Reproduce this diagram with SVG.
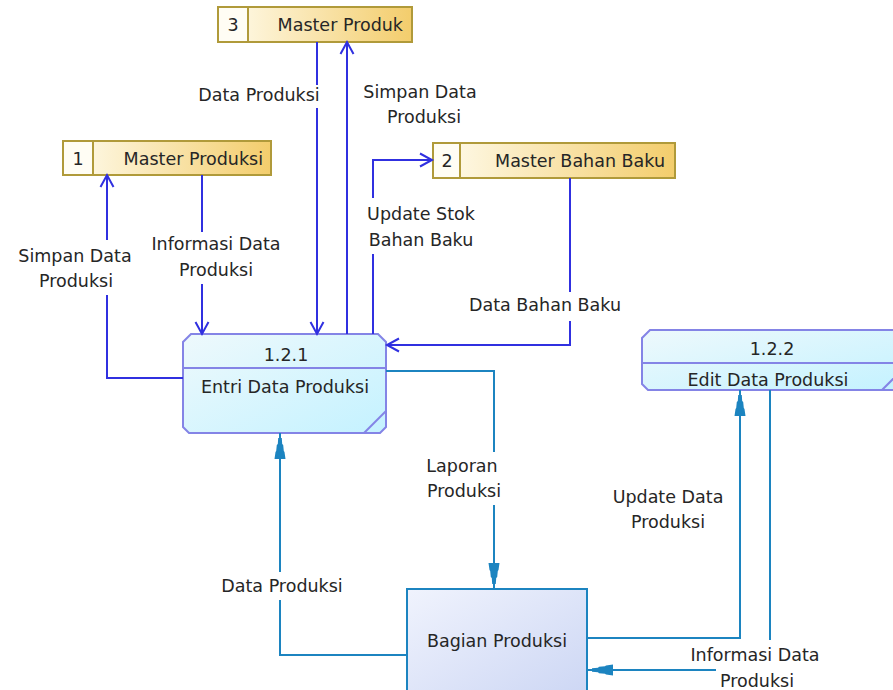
<svg xmlns="http://www.w3.org/2000/svg" width="893" height="690" viewBox="0 0 893 690">
  <defs>
    <linearGradient id="storeFill" x1="0" y1="0" x2="1" y2="0">
      <stop offset="0" stop-color="#fffcef"/>
      <stop offset="1" stop-color="#f3cd6c"/>
    </linearGradient>
    <linearGradient id="procFill" x1="0" y1="0" x2="1" y2="1">
      <stop offset="0" stop-color="#eef9fc"/>
      <stop offset="1" stop-color="#c4f2ff"/>
    </linearGradient>
    <linearGradient id="entityFill" x1="0" y1="0" x2="1" y2="1">
      <stop offset="0" stop-color="#f0f3fd"/>
      <stop offset="1" stop-color="#ccd6f4"/>
    </linearGradient>
    <marker id="openArrow" markerUnits="userSpaceOnUse" markerWidth="16" markerHeight="16" viewBox="0 -8 16 16" refX="13" refY="0" orient="auto" overflow="visible">
      <path d="M1,-6.5 L13,0 L1,6.5" fill="none" stroke="#3030e0" stroke-width="2"/>
    </marker>
    <marker id="stepArrow" markerUnits="userSpaceOnUse" markerWidth="28" markerHeight="14" viewBox="0 -7 28 14" refX="26" refY="0" orient="auto" overflow="visible">
      <path d="M0,-5.5 L7,-4.5 L8,-3.8 L14,-3.2 L15,-2.2 L21,-1.8 L21,1.8 L15,2.2 L14,3.2 L8,3.8 L7,4.5 L0,5.5 Z" fill="#1c84c0"/>
    </marker>
  </defs>
  <style>
    text { font-family: "DejaVu Sans", "Liberation Sans", sans-serif; font-size: 17.5px; fill: #262626; }
    .c { text-anchor: middle; }
    .e { text-anchor: end; }
    .store { fill: url(#storeFill); stroke: #b09a3a; stroke-width: 2; }
    .cell { fill: #fffdf4; stroke: #b09a3a; stroke-width: 2; }
    .proc { fill: url(#procFill); stroke: #8484e6; stroke-width: 2; }
    .procLine { stroke: #8484e6; stroke-width: 2; fill: none; }
    .entity { fill: url(#entityFill); stroke: #1c84c0; stroke-width: 2; }
    .blue { fill: none; stroke: #3030e0; stroke-width: 2; }
    .teal { fill: none; stroke: #1c84c0; stroke-width: 2; }
  </style>
  <rect width="893" height="690" fill="#ffffff"/>

  <!-- data stores -->
  <g id="store-3">
    <rect class="store" x="218" y="7" width="194" height="35"/>
    <rect class="cell" x="218" y="7" width="30" height="35"/>
    <text class="c" x="233" y="31">3</text>
    <text class="e" x="403" y="31">Master Produk</text>
  </g>
  <g id="store-1">
    <rect class="store" x="63" y="141" width="208" height="34"/>
    <rect class="cell" x="63" y="141" width="30" height="34"/>
    <text class="c" x="78" y="165">1</text>
    <text class="e" x="263" y="165">Master Produksi</text>
  </g>
  <g id="store-2">
    <rect class="store" x="433" y="143" width="242" height="35"/>
    <rect class="cell" x="433" y="143" width="27" height="35"/>
    <text class="c" x="447" y="167">2</text>
    <text class="e" x="665" y="167">Master Bahan Baku</text>
  </g>

  <!-- processes -->
  <g id="proc-121">
    <path class="proc" d="M191,334 H378 L386,342 V427 L380,433 H189 L183,427 V342 Z"/>
    <line class="procLine" x1="183" y1="368" x2="386" y2="368"/>
    <line class="procLine" x1="386" y1="411" x2="364" y2="433"/>
    <text class="c" x="286" y="361">1.2.1</text>
    <text class="c" x="285" y="393">Entri Data Produksi</text>
  </g>
  <g id="proc-122">
    <path class="proc" d="M650,330 H898 V390 H648 L642,384 V338 Z"/>
    <line class="procLine" x1="642" y1="363" x2="898" y2="363"/>
    <line class="procLine" x1="896" y1="376" x2="882" y2="390"/>
    <text class="c" x="772" y="355">1.2.2</text>
    <text class="c" x="768" y="386">Edit Data Produksi</text>
  </g>

  <!-- external entity -->
  <g id="bagian-produksi">
    <rect class="entity" x="407" y="589" width="180" height="110"/>
    <text class="c" x="497" y="647">Bagian Produksi</text>
  </g>

  <!-- flows -->
  <g id="connectors">
    <path class="blue" d="M317,42 V85"/>
    <path class="blue" d="M317,108 V334" marker-end="url(#openArrow)"/>
    <path class="blue" d="M347,334 V42" marker-end="url(#openArrow)"/>
    <path class="blue" d="M373,334 V254"/>
    <path class="blue" d="M373,198 V160 H432" marker-end="url(#openArrow)"/>
    <path class="blue" d="M570,178 V292"/>
    <path class="blue" d="M570,321 V345 H387" marker-end="url(#openArrow)"/>
    <path class="blue" d="M183,378 H107 V295"/>
    <path class="blue" d="M107,240 V175" marker-end="url(#openArrow)"/>
    <path class="blue" d="M202,175 V232"/>
    <path class="blue" d="M202,284 V334" marker-end="url(#openArrow)"/>

    <path class="teal" d="M386,371 H494 V452"/>
    <path class="teal" d="M494,505 V589" marker-end="url(#stepArrow)"/>
    <path class="teal" d="M407,655 H280 V600"/>
    <path class="teal" d="M280,572 V433" marker-end="url(#stepArrow)"/>
    <path class="teal" d="M587,638 H740 V390" marker-end="url(#stepArrow)"/>
    <path class="teal" d="M770,390 V640"/>
    <path class="teal" d="M716,670 H587" marker-end="url(#stepArrow)"/>
  </g>

  <!-- flow labels -->
  <g id="labels">
    <text class="c" x="259" y="101">Data Produksi</text>
    <text class="c" x="420" y="98">Simpan Data</text>
    <text class="c" x="424" y="123">Produksi</text>
    <text class="c" x="421" y="220">Update Stok</text>
    <text class="c" x="421" y="246">Bahan Baku</text>
    <text class="c" x="545" y="311">Data Bahan Baku</text>
    <text class="c" x="75" y="262">Simpan Data</text>
    <text class="c" x="76" y="287">Produksi</text>
    <text class="c" x="216" y="250">Informasi Data</text>
    <text class="c" x="216" y="276">Produksi</text>
    <text class="c" x="462" y="472">Laporan</text>
    <text class="c" x="464" y="497">Produksi</text>
    <text class="c" x="282" y="592">Data Produksi</text>
    <text class="c" x="668" y="503">Update Data</text>
    <text class="c" x="668" y="528">Produksi</text>
    <text class="c" x="755" y="661">Informasi Data</text>
    <text class="c" x="757" y="687">Produksi</text>
  </g>
</svg>
